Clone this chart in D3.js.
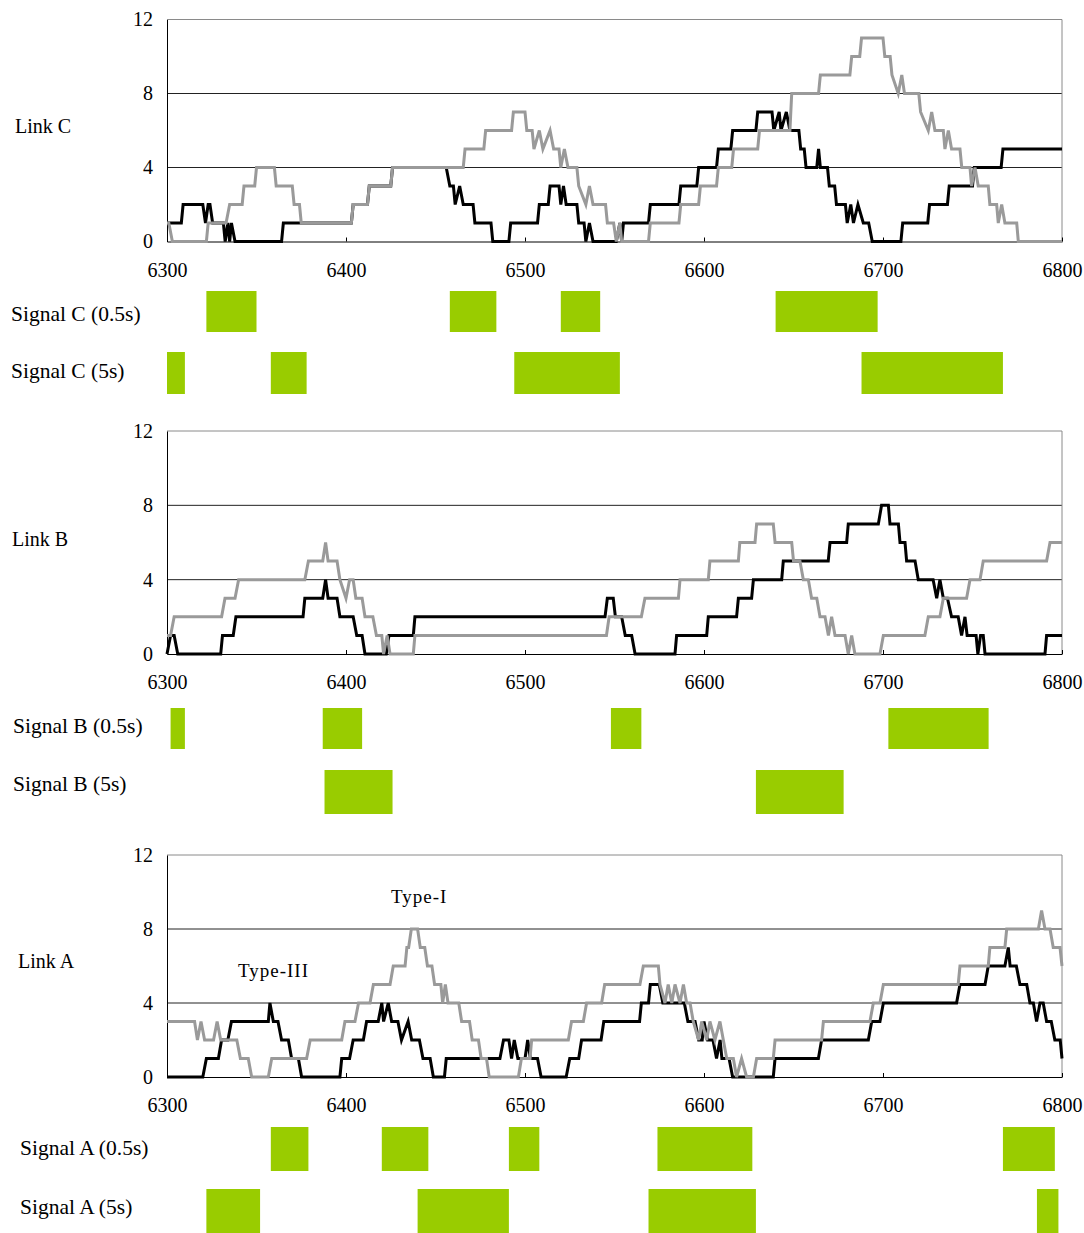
<!DOCTYPE html>
<html>
<head>
<meta charset="utf-8">
<script src="https://cdn.jsdelivr.net/npm/d3@7"></script>
<style>
  body { margin: 0; background: #fff; }
  text { font-family: "Liberation Serif", "Times New Roman", serif; fill: #000; }
</style>
</head>
<body>
<div id="chart"></div>
<script>
// axis ticks
const xTicks = [6300, 6400, 6500, 6600, 6700, 6800];
const yTicks = [0, 4, 8, 12];

// Link C: [time, count]
const linkC_typeIII = [[6300,1],[6308,1],[6309,2],[6320,2],[6321.5,1],[6323,2],[6324,2],[6325.5,1],[6331.5,1],[6332.5,0],[6334,1],[6335,0],[6336,1],[6338,0],[6364,0],[6365,1],[6403,1],[6404,2],[6412,2],[6413,3],[6425,3],[6426,4],[6456,4],[6458,3],[6460,3],[6461,2],[6463.5,3],[6465.5,2],[6471,2],[6472,1],[6481,1],[6482,0],[6491,0],[6492,1],[6507,1],[6508,2],[6513,2],[6514,3],[6519,3],[6520,2],[6521.5,3],[6523,2],[6529,2],[6530,1],[6533,1],[6534,0],[6536,1],[6538,0],[6551,0],[6553,1],[6554,0],[6555,1],[6569,1],[6570,2],[6586,2],[6587,3],[6596,3],[6597,4],[6607,4],[6608,5],[6615,5],[6616,6],[6629,6],[6630,7],[6638,7],[6639,6],[6642,7],[6643,6],[6646,7],[6648,6],[6653,6],[6654,5],[6656,5],[6657,4],[6663,4],[6664,5],[6665,4],[6669,4],[6670,3],[6673,3],[6674,2],[6679,2],[6680,1],[6682,2],[6683.5,1],[6686,2],[6689,1],[6692,1],[6694,0],[6710,0],[6711,1],[6725,1],[6726,2],[6736,2],[6737,3],[6750,3],[6751,4],[6766,4],[6767,5],[6800,5]];
const linkC_typeI = [[6300,1],[6301,1],[6303,0],[6322,0],[6323,1],[6333,1],[6335,2],[6342,2],[6343,3],[6349,3],[6350,4],[6360,4],[6361,3],[6370,3],[6371,2],[6374,2],[6375,1],[6403,1],[6404,2],[6412,2],[6413,3],[6425,3],[6426,4],[6465.5,4],[6466.5,5],[6477,5],[6478,6],[6492.5,6],[6493.5,7],[6500,7],[6501,6],[6504,6],[6505,5],[6508,6],[6510,5],[6514,6],[6516,5],[6519,5],[6520,4],[6522,5],[6524,4],[6529,4],[6530,3],[6534,2],[6536,3],[6538,2],[6545,2],[6546,1],[6549.5,1],[6551,0],[6553,1],[6554,0],[6569,0],[6570,1],[6586,1],[6587,2],[6597,2],[6598,3],[6607,3],[6608,4],[6615.5,4],[6616.5,5],[6630,5],[6631,6],[6648,6],[6649,8],[6664,8],[6665,9],[6681.5,9],[6682.5,10],[6687,10],[6688,11],[6700,11],[6701,10],[6704,10],[6705,9],[6708.5,8],[6710.5,9],[6712,8],[6720,8],[6721,7],[6725.3,6],[6727.2,7],[6729,6],[6733.7,6],[6734.6,5],[6736.5,6],[6738.3,5],[6743,5],[6744,4],[6748.6,4],[6749.5,3],[6751.4,4],[6753.2,3],[6758.8,3],[6759.7,2],[6763.5,2],[6764.4,1],[6766.3,2],[6768.1,1],[6774.7,1],[6775.6,0],[6800,0]];

// Link B
const linkB_typeIII = [[6300,0],[6302,1],[6304,1],[6306,0],[6330,0],[6331,1],[6337,1],[6338.5,2],[6376,2],[6377,3],[6387,3],[6388.6,4],[6390,3],[6395,3],[6396.6,2],[6404,2],[6406,1],[6409,1],[6410.6,0],[6422.5,0],[6424,1],[6437.6,1],[6438.5,2],[6544.7,2],[6546,3],[6549.3,3],[6550.5,2],[6554,2],[6556,1],[6559.6,1],[6561.5,0],[6583.8,0],[6584.7,1],[6601.5,1],[6602.4,2],[6618.2,2],[6619.2,3],[6626.6,3],[6627.6,4],[6643.4,4],[6644.3,5],[6669.4,5],[6670.4,6],[6679.7,6],[6680.6,7],[6697.4,7],[6699.2,8],[6703,8],[6703.9,7],[6708.6,7],[6709.5,6],[6712.3,6],[6713.2,5],[6717.9,5],[6719.7,4],[6728,4],[6730,3],[6731.8,4],[6733.7,3],[6736,3],[6738.3,2],[6742,2],[6743.9,1],[6745.8,2],[6747,1],[6752,1],[6753,0],[6754.5,1],[6756,1],[6757,0],[6790.5,0],[6791.4,1],[6800,1]];
const linkB_typeI = [[6300,1],[6302,1],[6304,2],[6330.5,2],[6332.4,3],[6338,3],[6340,4],[6377,4],[6379,5],[6387,5],[6388.6,6],[6390,5],[6395,5],[6396.6,4],[6400,3],[6402,4],[6404,4],[6405.5,3],[6409,3],[6410.6,2],[6415,2],[6417,1],[6420,1],[6421,0],[6423,1],[6424.6,0],[6437.6,0],[6438.5,1],[6545.5,1],[6547,2],[6565,2],[6567,3],[6585.7,3],[6586.6,4],[6602.4,4],[6603.3,5],[6619.2,5],[6620,6],[6628.5,6],[6629.4,7],[6638.7,7],[6639.7,6],[6649,6],[6650,5],[6653.6,5],[6655.5,4],[6658.3,4],[6660.1,3],[6663,3],[6664.8,2],[6667.6,2],[6669.5,1],[6671.3,2],[6673.2,1],[6678.8,1],[6680.6,0],[6682.5,1],[6684.3,0],[6698.3,0],[6700.2,1],[6723.4,1],[6725.3,2],[6731.8,2],[6733.7,3],[6746.7,3],[6748.6,4],[6754.2,4],[6756,5],[6791.4,5],[6793.3,6],[6800,6]];

// Link A
const linkA_typeIII = [[6300,0],[6320,0],[6322,1],[6328.7,1],[6330.5,2],[6334,2],[6336,3],[6356.6,3],[6357.5,4],[6359.4,3],[6362,3],[6364,2],[6367.8,2],[6369.6,1],[6373.4,1],[6375.2,0],[6396.6,0],[6397.6,1],[6402,1],[6404,2],[6409.7,2],[6411.5,3],[6418,3],[6420,4],[6421,3],[6423.6,4],[6425.5,3],[6429,3],[6431,2],[6434.7,3],[6436.7,2],[6441,2],[6443,1],[6447,1],[6448.8,0],[6455,0],[6456,1],[6486,1],[6488,2],[6491,2],[6492.5,1],[6494,2],[6496,1],[6500,1],[6501.5,2],[6503,1],[6507,1],[6509,0],[6523,0],[6525,1],[6530,1],[6531.6,2],[6542.5,2],[6544,3],[6564,3],[6565,4],[6569,4],[6570,5],[6575,5],[6577,4],[6589,4],[6591,3],[6595,3],[6597,2],[6599,2],[6600,3],[6602,2],[6605,2],[6607,1],[6609,2],[6610,1],[6614,1],[6616,0],[6638.7,0],[6639.7,1],[6663.9,1],[6665.7,2],[6691.8,2],[6693.7,3],[6698.3,3],[6700.2,4],[6741.1,4],[6743,5],[6757,5],[6758.8,6],[6768.1,6],[6770,7],[6771,6],[6774.5,6],[6776.5,5],[6780.3,5],[6782.1,4],[6784,4],[6785.8,3],[6787.7,4],[6789.5,4],[6791.4,3],[6794,3],[6796,2],[6799,2],[6800,1]];
const linkA_typeI = [[6300,3],[6315.4,3],[6317,2],[6319,3],[6321,2],[6326,2],[6328,3],[6330,2],[6339,2],[6341,1],[6345.4,1],[6347.3,0],[6356.6,0],[6358.5,1],[6378,1],[6380,2],[6397.6,2],[6399.4,3],[6405,3],[6407,4],[6413.4,4],[6415.3,5],[6424.6,5],[6426.4,6],[6433,6],[6434,7],[6435,7],[6436.5,8],[6440,8],[6441.5,7],[6444,7],[6445.5,6],[6448,6],[6449.5,5],[6453,5],[6454,4],[6455.5,5],[6457,4],[6463,4],[6464.6,3],[6469,3],[6470.5,2],[6474,2],[6475.5,1],[6478.5,1],[6480,0],[6496.3,0],[6498,1],[6502.8,1],[6503.7,2],[6524.2,2],[6526,3],[6532.6,3],[6534.4,4],[6542.8,4],[6544.5,5],[6564.2,5],[6566.1,6],[6574.5,6],[6575.4,5],[6578.2,4],[6580,5],[6582,4],[6583.8,5],[6586.6,4],[6588.5,5],[6590.3,4],[6592.2,4],[6594,3],[6597,2],[6598.7,3],[6601.5,2],[6603.3,3],[6606.1,2],[6608.9,3],[6610.8,2],[6612.7,1],[6616.4,1],[6618.2,0],[6621,1],[6623.8,0],[6627.6,0],[6629.4,1],[6638.7,1],[6639.7,2],[6665.7,2],[6666.7,3],[6692.7,3],[6694.6,4],[6698.3,4],[6700.2,5],[6742,5],[6743,6],[6758.8,6],[6759.7,7],[6768.1,7],[6769.1,8],[6786.8,8],[6788.6,9],[6790.5,8],[6793.3,8],[6795.1,7],[6798.9,7],[6800,6]];

// signal intervals [start, end]
const signalC_05 = [[6322,6350],[6458,6484],[6520,6542],[6640,6697]];
const signalC_5 = [[6300,6310],[6358,6378],[6494,6553],[6688,6767]];
const signalB_05 = [[6302,6310],[6387,6409],[6548,6565],[6703,6759]];
const signalB_5 = [[6388,6426],[6629,6678]];
const signalA_05 = [[6358,6379],[6420,6446],[6491,6508],[6574,6627],[6767,6796]];
const signalA_5 = [[6322,6352],[6440,6491],[6569,6629],[6786,6798]];

const W = 1084, H = 1233;
const svg = d3.select("#chart").append("svg")
    .attr("width", W)
    .attr("height", H);

const x = d3.scaleLinear().domain([6300, 6800]).range([167, 1062]);

const panels = [
    { label: "Link C", lx: 15, ly: 133, top: 19.5, bottom: 241.5,
      black: linkC_typeIII, gray: linkC_typeI,
      signals: [
        { name: "Signal C (0.5s)", data: signalC_05, lx: 11, ly: 321, y0: 291, y1: 332 },
        { name: "Signal C (5s)", data: signalC_5, lx: 11, ly: 378, y0: 352, y1: 394 }
      ] },
    { label: "Link B", lx: 12, ly: 546, top: 431, bottom: 654,
      black: linkB_typeIII, gray: linkB_typeI,
      signals: [
        { name: "Signal B (0.5s)", data: signalB_05, lx: 13, ly: 733, y0: 708, y1: 749 },
        { name: "Signal B (5s)", data: signalB_5, lx: 13, ly: 791, y0: 770, y1: 814 }
      ] },
    { label: "Link A", lx: 18, ly: 968, top: 855, bottom: 1077,
      black: linkA_typeIII, gray: linkA_typeI,
      signals: [
        { name: "Signal A (0.5s)", data: signalA_05, lx: 20, ly: 1155, y0: 1127, y1: 1171 },
        { name: "Signal A (5s)", data: signalA_5, lx: 20, ly: 1214, y0: 1189, y1: 1233 }
      ] }
];

function drawPanel(p) {
    let y = d3.scaleLinear().domain([0, 12]).range([p.bottom, p.top]);
    let g = svg.append("g");

    // grid lines at 4 and 8, top border grey
    g.selectAll(".grid")
        .data(yTicks.filter(d => d > 0))
        .enter()
        .append("line")
        .attr("x1", x(6300)).attr("x2", x(6800))
        .attr("y1", d => y(d)).attr("y2", d => y(d))
        .attr("stroke", d => d == 12 ? "#8a8a8a" : "#222")
        .attr("stroke-width", 1);

    // right border
    g.append("line")
        .attr("x1", x(6800)).attr("x2", x(6800))
        .attr("y1", y(12)).attr("y2", y(0))
        .attr("stroke", "#8a8a8a");

    // y axis
    let yAxis = g.append("g")
        .attr("transform", `translate(${x(6300)},0)`)
        .call(d3.axisLeft(y).tickValues(yTicks).tickSize(0).tickPadding(14));
    yAxis.select(".domain").attr("stroke", "#000");
    yAxis.selectAll("text")
        .style("font-family", "Liberation Serif")
        .style("font-size", "20px");

    // x axis, small ticks pointing up
    let xAxis = g.append("g")
        .attr("transform", `translate(0,${y(0)})`)
        .call(d3.axisBottom(x).tickValues(xTicks).tickFormat(d3.format("d"))
            .tickSizeInner(-4).tickSizeOuter(0).tickPadding(21));
    xAxis.select(".domain").attr("stroke", "#000");
    xAxis.selectAll("text")
        .style("font-family", "Liberation Serif")
        .style("font-size", "20px");

    let line = d3.line()
        .x(d => x(d[0]))
        .y(d => y(d[1]));

    g.append("path")
        .attr("d", line(p.black))
        .attr("fill", "none")
        .attr("stroke", "#000")
        .attr("stroke-width", 3);

    g.append("path")
        .attr("d", line(p.gray))
        .attr("fill", "none")
        .attr("stroke", "#9a9a9a")
        .attr("stroke-width", 3);

    svg.append("text")
        .attr("x", p.lx).attr("y", p.ly)
        .style("font-size", "20px")
        .text(p.label);

    // signal rows
    p.signals.forEach(s => {
        svg.append("text")
            .attr("x", s.lx).attr("y", s.ly)
            .style("font-size", "21.5px")
            .text(s.name);

        svg.append("g")
            .selectAll("rect")
            .data(s.data)
            .enter()
            .append("rect")
            .attr("x", d => x(d[0]))
            .attr("width", d => x(d[1]) - x(d[0]))
            .attr("y", s.y0)
            .attr("height", s.y1 - s.y0)
            .attr("fill", "#99cc00");
    });
}

panels.forEach(drawPanel);

// annotations on Link A
svg.append("text")
    .attr("x", 391).attr("y", 903)
    .style("font-size", "19px")
    .style("letter-spacing", "1px")
    .text("Type-I");
svg.append("text")
    .attr("x", 238).attr("y", 977)
    .style("font-size", "19px")
    .style("letter-spacing", "1px")
    .text("Type-III");
</script>
</body>
</html>
